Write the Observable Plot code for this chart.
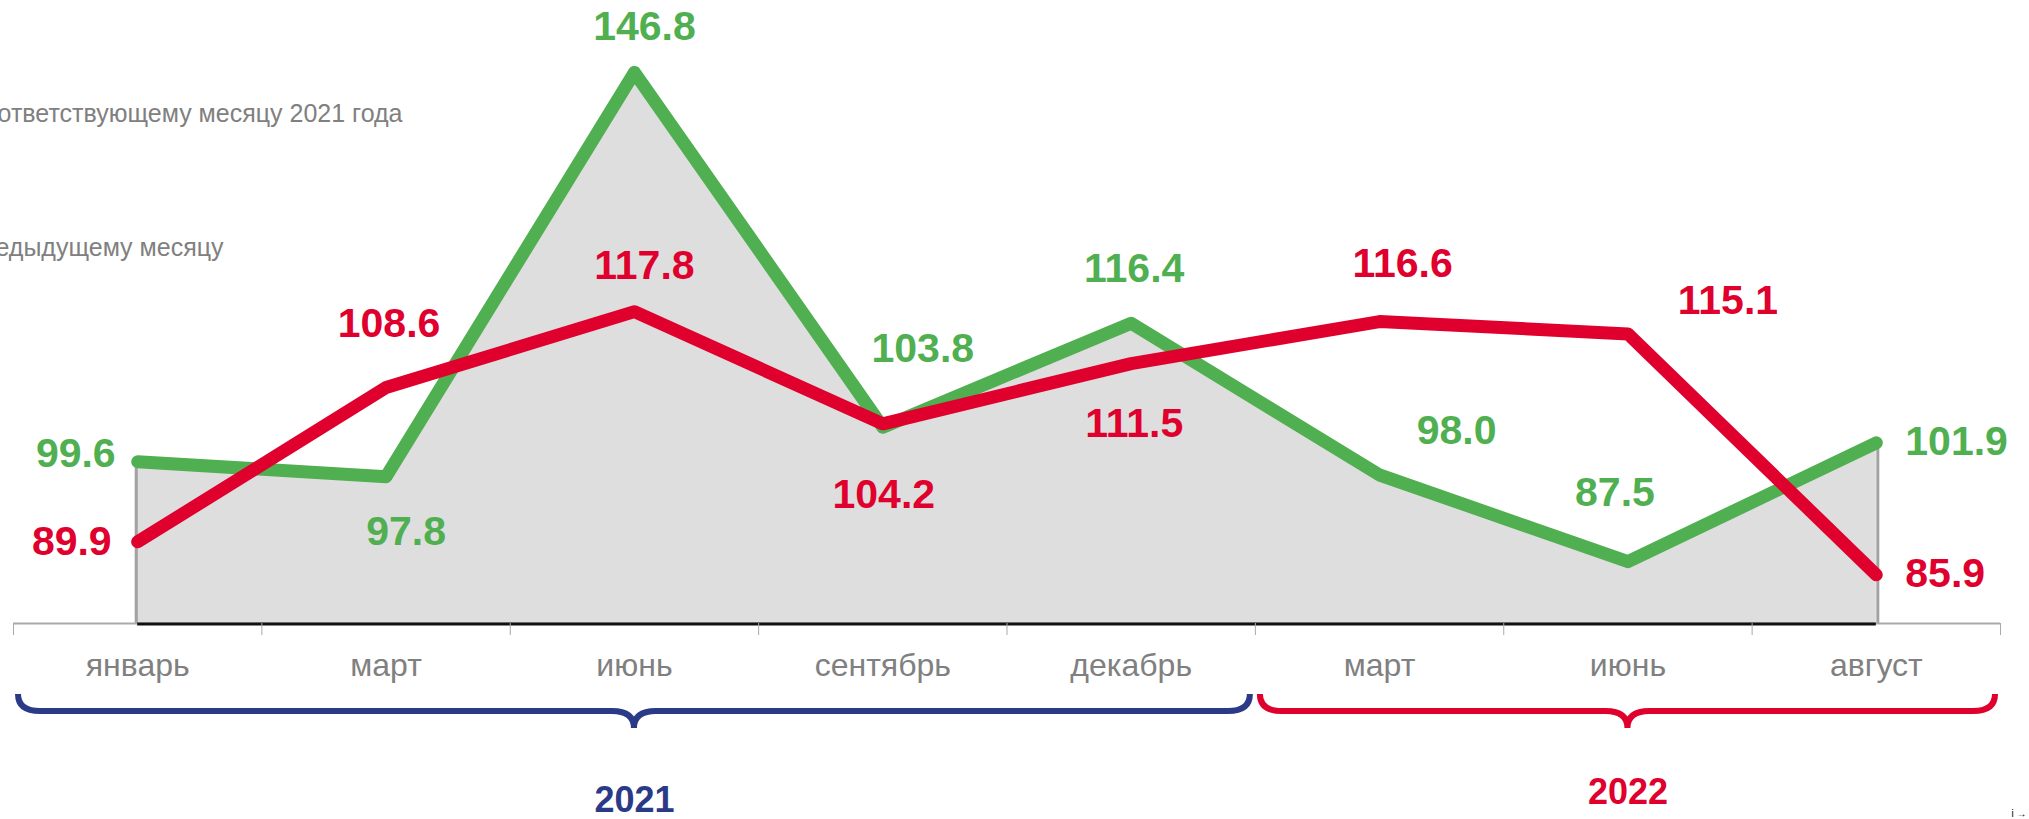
<!DOCTYPE html>
<html><head><meta charset="utf-8">
<script src="https://cdn.jsdelivr.net/npm/d3@7"></script>
<script src="https://cdn.jsdelivr.net/npm/@observablehq/plot@0.6"></script>
<style>html,body{margin:0;padding:0;background:#fff;overflow:hidden}</style>
</head><body><div id="chart"></div>
<script>
// ---- data ----
const months = ["январь","март","июнь","сентябрь","декабрь","март","июнь","август"];
const yoy = [99.6, 97.8, 146.8, 103.8, 116.4, 98.0, 87.5, 101.9];   // в % к соответствующему месяцу 2021 года
const mom = [89.9, 108.6, 117.8, 104.2, 111.5, 116.6, 115.1, 85.9]; // в % к предыдущему месяцу
const yearNames = ["2021", "2022"];
const yearFrom = [0, 5];
const yearTo = [4, 7];
const legendTexts = ["в % к соответствующему месяцу 2021 года", "в % к предыдущему месяцу"];

// ---- label placement (style only) ----
const yoyLabelPos = [[-22,-8,"end"],[20,55,"middle"],[10,-46,"middle"],[40,-78,"middle"],[3,-54,"middle"],[77,-44,"middle"],[-13,-69,"middle"],[29,-1,"start"]];
const momLabelPos = [[-26,0,"end"],[3,-64,"middle"],[10,-46,"middle"],[1,71,"middle"],[3,60,"middle"],[23,-58,"middle"],[100,-33,"middle"],[29,-1,"start"]];

const GREEN = "#50AF50", RED = "#E0002D", NAVY = "#2B3A87", GREY = "#808080";
const data = months.map((m, i) => ({i, month: m, yoy: yoy[i], mom: mom[i]}));
const years = yearNames.map((y, k) => ({year: y, from: yearFrom[k], to: yearTo[k]}));
const boundaries = d3.range(-0.5, months.length, 1);

const bracketMark = (index, scales, channels, dims) => {
  const g = d3.create("svg:g");
  const y0 = dims.height - dims.marginBottom;
  const yTop = y0 + 71, yH = y0 + 88, yTip = y0 + 105, r = 22;
  years.forEach((s, k) => {
    const x1 = scales.x(s.from - 0.5) + 5, x2 = scales.x(s.to + 0.5) - 5, xc = scales.x((s.from + s.to) / 2);
    const d = `M${x1},${yTop} Q${x1},${yH} ${x1 + r},${yH} L${xc - r},${yH} Q${xc},${yH} ${xc},${yTip} Q${xc},${yH} ${xc + r},${yH} L${x2 - r},${yH} Q${x2},${yH} ${x2},${yTop}`;
    g.append("path").attr("d", d).attr("fill", "none").attr("stroke", k === 0 ? NAVY : RED).attr("stroke-width", 6);
  });
  return g.node();
};

const labelMarks = (key, pos, color) => data.map((d, i) =>
  Plot.text([d], {x: "i", y: key, text: v => v[key].toFixed(1), dx: pos[i][0], dy: pos[i][1], textAnchor: pos[i][2],
    fill: color, fontSize: 41, fontWeight: "bold"}));

const chart = Plot.plot({
  width: 2029, height: 819,
  marginLeft: 13, marginRight: 29, marginTop: 45.5, marginBottom: 196,
  x: {domain: [-0.5, 7.5], axis: null},
  y: {domain: [80, 150], axis: null},
  style: {fontFamily: "'Liberation Sans', Arial, sans-serif", background: "white", overflow: "visible"},
  marks: [
    Plot.areaY(data, {x: "i", y1: 80, y2: "yoy", fill: "#dedede"}),
    Plot.ruleX([data[0]], {x: "i", y1: 80, y2: "yoy", stroke: "#555", strokeOpacity: 0.55, strokeWidth: 3, dx: -1.5}),
    Plot.ruleX([data[data.length - 1]], {x: "i", y1: 80, y2: "yoy", stroke: "#555", strokeOpacity: 0.55, strokeWidth: 3, dx: 1.5}),
    Plot.ruleY([80], {stroke: "#aaa", strokeWidth: 2}),
    Plot.ruleY([80], {x1: 0, x2: months.length - 1, stroke: "#111", strokeWidth: 3, dy: 0.5}),
    Plot.axisX({ticks: boundaries, tickSize: 12, tickFormat: () => "", stroke: "#aaa"}),
    Plot.text(data, {x: "i", text: "month", frameAnchor: "bottom", lineAnchor: "middle", dy: 42, fill: GREY, fontSize: 32}),
    bracketMark,
    Plot.text([years[0]], {x: d => (d.from + d.to) / 2, text: "year", frameAnchor: "bottom", lineAnchor: "middle", dy: 177, fill: NAVY, fontSize: 36, fontWeight: "bold"}),
    Plot.text([years[1]], {x: d => (d.from + d.to) / 2, text: "year", frameAnchor: "bottom", lineAnchor: "middle", dy: 169, fill: RED, fontSize: 36, fontWeight: "bold"}),
    Plot.text([legendTexts[0]], {text: d => d, frameAnchor: "top-left", lineAnchor: "middle", textAnchor: "end", dx: 389, dy: 67.5, fill: GREY, fontSize: 25}),
    Plot.text([legendTexts[1]], {text: d => d, frameAnchor: "top-left", lineAnchor: "middle", textAnchor: "end", dx: 210, dy: 201.5, fill: GREY, fontSize: 25}),
    Plot.line(data, {x: "i", y: "yoy", stroke: GREEN, strokeWidth: 13, strokeLinecap: "round", strokeLinejoin: "round"}),
    Plot.line(data, {x: "i", y: "mom", stroke: RED, strokeWidth: 13, strokeLinecap: "round", strokeLinejoin: "round"}),
    ...labelMarks("yoy", yoyLabelPos, GREEN),
    ...labelMarks("mom", momLabelPos, RED)
  ]
});
document.getElementById("chart").append(chart);
</script>
</body></html>
